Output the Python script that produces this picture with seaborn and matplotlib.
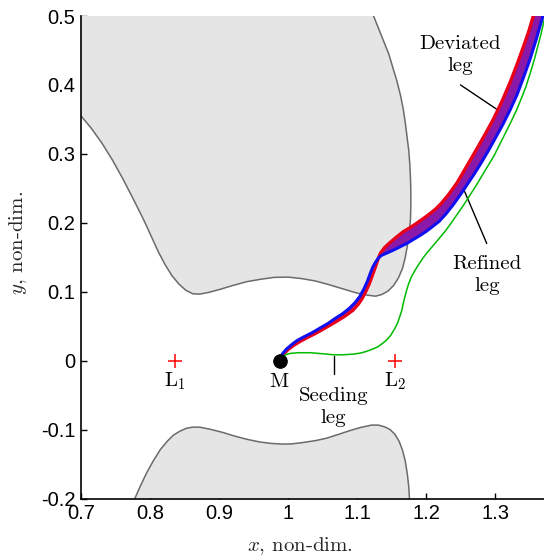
import numpy as np
import matplotlib
matplotlib.use('Agg')
import matplotlib.pyplot as plt
import seaborn as sns

# forbidden region above the axis (boundary)
upper_x = [0.700, 0.715, 0.730, 0.745, 0.760, 0.775, 0.790, 0.802, 0.812, 0.822, 0.832, 0.842,
           0.852, 0.862, 0.872, 0.885, 0.900, 0.920, 0.940, 0.960, 0.980, 1.000, 1.020, 1.040,
           1.060, 1.080, 1.100, 1.115, 1.127, 1.136, 1.145, 1.153, 1.160, 1.166, 1.170, 1.173,
           1.1755, 1.1775, 1.178, 1.178, 1.1775, 1.1765, 1.175, 1.1725, 1.170, 1.167, 1.163, 1.158,
           1.152, 1.146, 1.138, 1.130, 1.124]
upper_y = [0.355, 0.337, 0.316, 0.292, 0.265, 0.236, 0.206, 0.180, 0.158, 0.139, 0.123, 0.111,
           0.102, 0.097, 0.0965, 0.099, 0.103, 0.109, 0.1145, 0.118, 0.1208, 0.1212, 0.119, 0.1155,
           0.110, 0.104, 0.098, 0.095, 0.0935, 0.096, 0.101, 0.109, 0.120, 0.134, 0.150, 0.167,
           0.185, 0.205, 0.225, 0.245, 0.265, 0.285, 0.305, 0.325, 0.345, 0.365, 0.385, 0.405,
           0.425, 0.445, 0.465, 0.485, 0.500]

# forbidden region below the axis
lower_x = [0.778, 0.786, 0.795, 0.805, 0.815, 0.825, 0.834, 0.844, 0.853, 0.862, 0.872, 0.887,
           0.905, 0.921, 0.940, 0.959, 0.975, 0.990, 1.005, 1.020, 1.040, 1.056, 1.073, 1.090,
           1.105, 1.121, 1.131, 1.140, 1.148, 1.155, 1.161, 1.166, 1.170, 1.173, 1.175, 1.176]
lower_y = [-0.200, -0.182, -0.163, -0.145, -0.129, -0.117, -0.108, -0.102, -0.098, -0.0965, -0.0965, -0.0995,
           -0.104, -0.109, -0.114, -0.118, -0.120, -0.121, -0.1208, -0.119, -0.116, -0.1125, -0.107, -0.1014,
           -0.097, -0.0935, -0.0935, -0.096, -0.100, -0.107, -0.117, -0.130, -0.146, -0.165, -0.183, -0.200]

# seeding leg (green)
seed_x = [0.988, 0.995, 1.003, 1.015, 1.032, 1.050, 1.066, 1.080, 1.095, 1.105, 1.114, 1.122,
          1.130, 1.137, 1.143, 1.149, 1.155, 1.159, 1.162, 1.165, 1.167, 1.1695, 1.172, 1.175,
          1.179, 1.184, 1.189, 1.195, 1.201, 1.207, 1.213, 1.220, 1.228, 1.236, 1.245, 1.254,
          1.263, 1.272, 1.281, 1.290, 1.299, 1.307, 1.315, 1.323, 1.331, 1.338, 1.345, 1.351,
          1.357, 1.362, 1.367, 1.371, 1.375]
seed_y = [0.002, 0.008, 0.0105, 0.0115, 0.0115, 0.010, 0.0085, 0.0085, 0.0095, 0.011, 0.0135, 0.0165,
          0.020, 0.025, 0.030, 0.037, 0.047, 0.055, 0.064, 0.073, 0.083, 0.093, 0.1025, 0.112,
          0.122, 0.131, 0.139, 0.148, 0.156, 0.163, 0.170, 0.1785, 0.188, 0.199, 0.212, 0.225,
          0.239, 0.253, 0.268, 0.283, 0.298, 0.314, 0.330, 0.346, 0.363, 0.380, 0.398, 0.417,
          0.437, 0.456, 0.475, 0.493, 0.512]

# refined leg (blue, lower edge of the fan)
ref_x = [0.987, 0.992, 0.998, 1.005, 1.013, 1.022, 1.034, 1.046, 1.058, 1.068, 1.079, 1.089,
         1.097, 1.104, 1.110, 1.115, 1.119, 1.123, 1.127, 1.131, 1.136, 1.143, 1.152, 1.162,
         1.172, 1.182, 1.192, 1.201, 1.210, 1.219, 1.229, 1.240, 1.250, 1.260, 1.270, 1.280,
         1.290, 1.300, 1.311, 1.322, 1.332, 1.341, 1.351, 1.360, 1.368, 1.374]
ref_y = [0.000, 0.010, 0.017, 0.023, 0.029, 0.034, 0.040, 0.047, 0.054, 0.061, 0.068, 0.076,
         0.084, 0.093, 0.104, 0.115, 0.126, 0.136, 0.143, 0.149, 0.153, 0.156, 0.160, 0.165,
         0.170, 0.176, 0.182, 0.188, 0.195, 0.202, 0.213, 0.227, 0.241, 0.256, 0.271, 0.287,
         0.304, 0.322, 0.342, 0.364, 0.386, 0.410, 0.438, 0.467, 0.495, 0.515]

# most deviated leg (red, upper edge of the fan)
dev_x = [0.987, 0.994, 1.000, 1.008, 1.016, 1.025, 1.037, 1.048, 1.060, 1.072, 1.083, 1.094,
         1.102, 1.108, 1.113, 1.118, 1.122, 1.126, 1.130, 1.134, 1.140, 1.148, 1.157, 1.167,
         1.177, 1.186, 1.196, 1.206, 1.214, 1.222, 1.232, 1.245, 1.259, 1.2735, 1.286, 1.2975,
         1.310, 1.322, 1.332, 1.341, 1.349, 1.3555, 1.362]
dev_y = [0.000, 0.010, 0.016, 0.022, 0.027, 0.032, 0.038, 0.044, 0.051, 0.058, 0.065, 0.073,
         0.082, 0.091, 0.101, 0.112, 0.123, 0.134, 0.146, 0.156, 0.164, 0.1715, 0.179, 0.187,
         0.193, 0.199, 0.206, 0.2135, 0.220, 0.228, 0.240, 0.258, 0.282, 0.307, 0.329, 0.350,
         0.376, 0.404, 0.430, 0.455, 0.478, 0.500, 0.522]

libration_x = [0.8365, 1.1557]
moon_x = 0.988

xticks = [0.7, 0.8, 0.9, 1.0, 1.1, 1.2, 1.3]
xtick_labels = ['0.7', '0.8', '0.9', '1', '1.1', '1.2', '1.3']
yticks = [-0.2, -0.1, 0.0, 0.1, 0.2, 0.3, 0.4, 0.5]
ytick_labels = ['-0.2', '-0.1', '0', '0.1', '0.2', '0.3', '0.4', '0.5']

sns.set_style('ticks')
plt.rcParams['font.family'] = ['Liberation Sans', 'DejaVu Sans']
plt.rcParams['mathtext.fontset'] = 'cm'
plt.rcParams['axes.unicode_minus'] = False

fig = plt.figure(figsize=(5.44, 5.57), dpi=100)
ax = fig.add_axes([81 / 544, 58.5 / 557, 463 / 544, 482.5 / 557])

grey = '#e5e5e5'
edge = '#6b6b6b'
ax.fill([0.7] + upper_x, [0.5] + upper_y, color=grey, lw=0, zorder=1)
ax.fill(lower_x, lower_y, color=grey, lw=0, zorder=1)
sns.lineplot(x=upper_x, y=upper_y, sort=False, estimator=None, color=edge, lw=1.1, ax=ax, zorder=2)
sns.lineplot(x=lower_x, y=lower_y, sort=False, estimator=None, color=edge, lw=1.1, ax=ax, zorder=2)

# fan of deviated legs
ax.fill(dev_x + ref_x[::-1], dev_y + ref_y[::-1], color='#8a18a8', lw=0, zorder=3)
sns.lineplot(x=dev_x, y=dev_y, sort=False, estimator=None, color='#e8001a', lw=2.4, ax=ax, zorder=4)
sns.lineplot(x=ref_x, y=ref_y, sort=False, estimator=None, color='#1010f0', lw=2.2, ax=ax, zorder=5)
sns.lineplot(x=seed_x, y=seed_y, sort=False, estimator=None, color='#00bb00', lw=1.1, ax=ax, zorder=4)

sns.scatterplot(x=libration_x, y=[0, 0], marker='+', color='red', s=110, linewidth=1.1, ax=ax, zorder=6)
sns.scatterplot(x=[moon_x], y=[0], color='black', s=95, edgecolor='black', ax=ax, zorder=6)

cm = dict(family='cmr10', fontsize=15, color='black')
ax.text(libration_x[0], -0.038, r'L$_1$', ha='center', va='baseline', **cm)
ax.text(libration_x[1], -0.038, r'L$_2$', ha='center', va='baseline', **cm)
ax.text(moon_x - 0.002, -0.038, 'M', ha='center', va='baseline', **cm)
ax.text(1.066, -0.067, 'Seeding\nleg', ha='center', va='center', linespacing=1.3, **cm)
ax.text(1.249, 0.444, 'Deviated\nleg', ha='center', va='center', linespacing=1.3, **cm)
ax.text(1.288, 0.124, 'Refined\nleg', ha='center', va='center', linespacing=1.3, **cm)

sns.lineplot(x=[1.066, 1.066], y=[0.007, -0.019], sort=False, estimator=None, color='black', lw=1, ax=ax)
sns.lineplot(x=[1.250, 1.305], y=[0.400, 0.363], sort=False, estimator=None, color='black', lw=1, ax=ax)
sns.lineplot(x=[1.254, 1.288], y=[0.250, 0.170], sort=False, estimator=None, color='black', lw=1, ax=ax)

ax.set_xlim(0.7, 1.371)
ax.set_ylim(-0.2, 0.5)
ax.set_xticks(xticks)
ax.set_xticklabels(xtick_labels)
ax.set_yticks(yticks)
ax.set_yticklabels(ytick_labels)
ax.tick_params(direction='in', length=4, width=1, labelsize=14.5, colors='black', pad=4)
sns.despine(ax=ax)
for s in ['left', 'bottom']:
    ax.spines[s].set_linewidth(1.2)
    ax.spines[s].set_color('black')

ax.set_xlabel(r'$x$, non-dim.', family='cmr10', fontsize=15)
ax.set_ylabel(r'$y$, non-dim.', family='cmr10', fontsize=15)
ax.xaxis.set_label_coords(0.473, -0.076)
ax.yaxis.set_label_coords(-0.112, 0.53)

fig.savefig('out.png', dpi=100)
